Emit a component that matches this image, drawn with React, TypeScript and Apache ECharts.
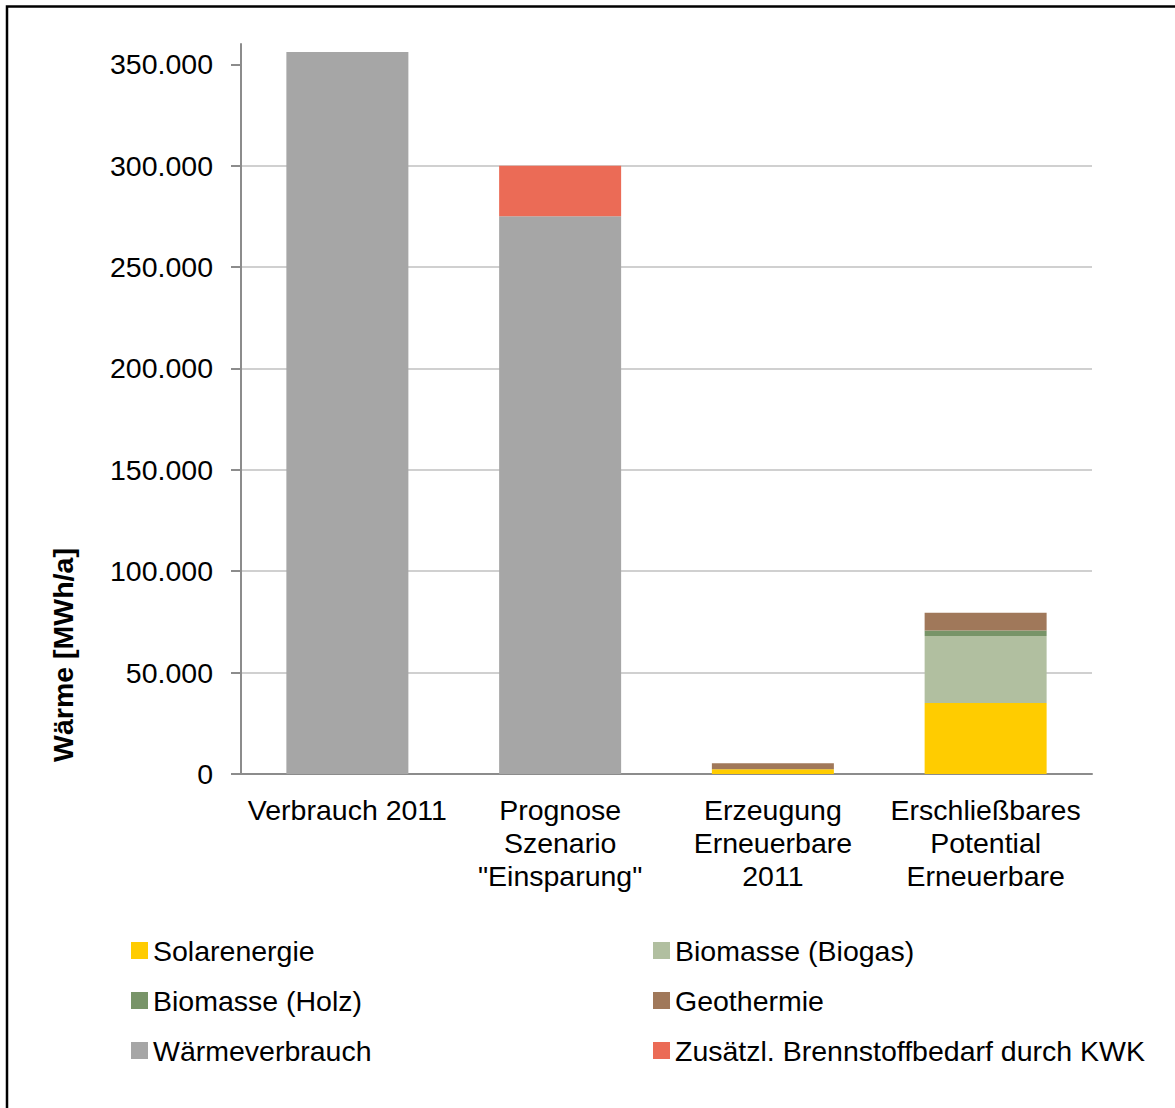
import React, { useEffect, useRef } from "react";
import * as echarts from "echarts";

const categories = [
  "Verbrauch 2011",
  'Prognose\nSzenario\n"Einsparung"',
  "Erzeugung\nErneuerbare\n2011",
  "Erschließbares\nPotential\nErneuerbare",
];
const seriesNames = [
  "Solarenergie",
  "Biomasse (Biogas)",
  "Biomasse (Holz)",
  "Geothermie",
  "Wärmeverbrauch",
  "Zusätzl. Brennstoffbedarf durch KWK",
];
const solar = [0, 0, 2300, 35000];
const biogas = [0, 0, 0, 33000];
const holz = [0, 0, 0, 2800];
const geothermie = [0, 0, 3000, 8700];
const waermeverbrauch = [356000, 275000, 0, 0];
const kwk = [0, 25000, 0, 0];
const yTicks = [0, 50000, 100000, 150000, 200000, 250000, 300000, 350000];
const colors = ["#FFCC00", "#B1BFA0", "#789468", "#A0785A", "#A6A6A6", "#EB6B56"];

const FONT = '"Liberation Sans", Arial, sans-serif';
const FS = 28.5;

const fmt = (v: number) => String(v).replace(/\B(?=(\d{3})+(?!\d))/g, ".");

export default function App() {
  const ref = useRef<HTMLDivElement>(null);
  useEffect(() => {
    if (!ref.current) return;
    const chart = echarts.init(ref.current, null, { renderer: "svg" });
    const values = [solar, biogas, holz, geothermie, waermeverbrauch, kwk];
    const legendBase = {
      orient: "vertical",
      top: 936,
      padding: 0,
      itemWidth: 17,
      itemHeight: 17,
      itemGap: 21,
      icon: "rect",
      textStyle: { fontSize: FS, color: "#000", fontFamily: FONT },
    };
    chart.setOption({
      animation: false,
      backgroundColor: "#ffffff",
      textStyle: { fontFamily: FONT },
      grid: { left: 241, right: 83, top: 44, bottom: 334, containLabel: false },
      xAxis: {
        type: "category",
        data: categories,
        axisTick: { show: false },
        axisLine: { lineStyle: { color: "#8C8C8C", width: 2 } },
        axisLabel: {
          interval: 0,
          margin: 19,
          color: "#000",
          fontSize: FS,
          lineHeight: 33,
          fontFamily: FONT,
        },
      },
      yAxis: {
        type: "value",
        min: 0,
        max: 360000,
        interval: 50000,
        axisLine: { show: true, lineStyle: { color: "#8C8C8C", width: 2 } },
        axisTick: {
          show: true,
          length: 10,
          customValues: yTicks,
          lineStyle: { color: "#8C8C8C", width: 2 },
        },
        axisLabel: {
          customValues: yTicks,
          margin: 28,
          color: "#000",
          fontSize: FS,
          fontFamily: FONT,
          formatter: (v: number) => fmt(v),
        },
        splitLine: {
          show: true,
          showMaxLine: false,
          lineStyle: { color: "#D0D0D0", width: 2 },
        },
      },
      legend: [
        { ...legendBase, left: 131, data: [seriesNames[0], seriesNames[2], seriesNames[4]] },
        { ...legendBase, left: 653, data: [seriesNames[1], seriesNames[3], seriesNames[5]] },
      ],
      series: seriesNames.map((name, i) => ({
        name,
        type: "bar",
        stack: "total",
        barWidth: 122,
        data: values[i],
        itemStyle: { color: colors[i] },
      })),
      graphic: [
        {
          type: "rect",
          silent: true,
          shape: { x: 7, y: 6.5, width: 1300, height: 1300 },
          style: { fill: "none", stroke: "#000", lineWidth: 2.5 },
        },
        {
          type: "text",
          x: 63,
          y: 655,
          rotation: Math.PI / 2,
          style: {
            text: "Wärme [MWh/a]",
            fontSize: FS,
            fontWeight: "bold",
            fontFamily: FONT,
            fill: "#000",
            align: "center",
            verticalAlign: "middle",
          },
        },
      ],
    });
    return () => chart.dispose();
  }, []);
  return (
    <div
      ref={ref}
      style={{ position: "absolute", left: 0, top: 0, width: 1175, height: 1108 }}
    />
  );
}
